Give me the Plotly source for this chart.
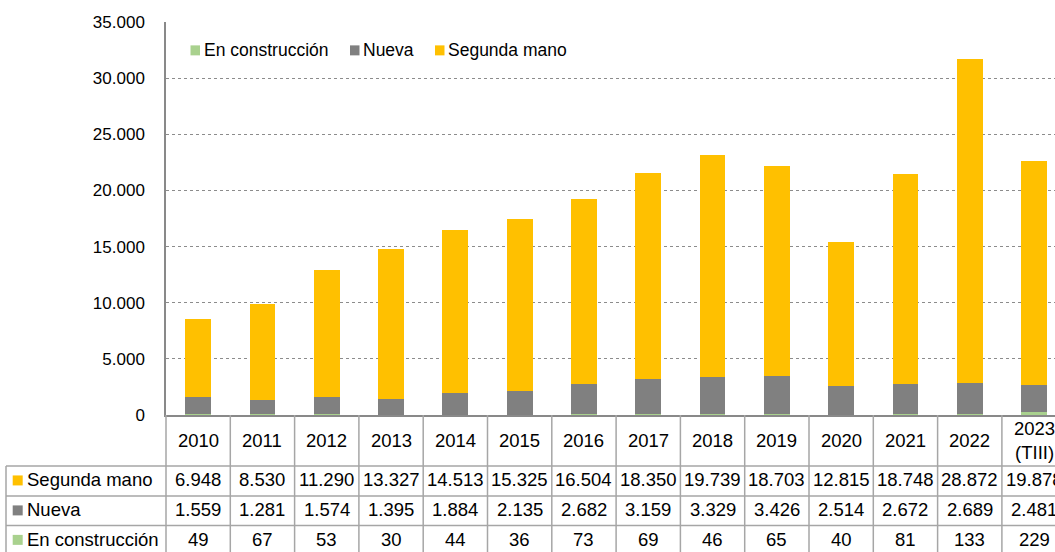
import plotly.graph_objects as go

categories = ["2010", "2011", "2012", "2013", "2014", "2015", "2016", "2017",
              "2018", "2019", "2020", "2021", "2022", "2023 (TIII)"]
header_labels = ["2010", "2011", "2012", "2013", "2014", "2015", "2016", "2017",
                 "2018", "2019", "2020", "2021", "2022", "2023<br>(TIII)"]
segunda_mano = [6948, 8530, 11290, 13327, 14513, 15325, 16504, 18350,
                19739, 18703, 12815, 18748, 28872, 19878]
nueva = [1559, 1281, 1574, 1395, 1884, 2135, 2682, 3159,
         3329, 3426, 2514, 2672, 2689, 2481]
en_construccion = [49, 67, 53, 30, 44, 36, 73, 69, 46, 65, 40, 81, 133, 229]

series = [
    ("En construcción", en_construccion, "#A9D18E"),
    ("Nueva", nueva, "#808080"),
    ("Segunda mano", segunda_mano, "#FFC000"),
]
table_rows = [
    ("Segunda mano", segunda_mano, "#FFC000"),
    ("Nueva", nueva, "#808080"),
    ("En construcción", en_construccion, "#A9D18E"),
]

W, H = 1055, 552
L, T, B = 166, 21.6, 415.0
PW, PH = W - L, B - T
COLW = 64.3
XR = [-0.5, -0.5 + PW / COLW]
FONT = "Liberation Sans, Arial, sans-serif"
LINE = "#A6A6A6"
TFS = 18.5


def fmt(v):
    return f"{v:,}".replace(",", ".")


def py(Y):
    return (B - Y) / PH


def px(X):
    return (X - L) / PW


fig = go.Figure()
for name, vals, col in series:
    fig.add_trace(go.Bar(x=categories, y=vals, name=name, marker_color=col,
                         marker_line_width=0, width=0.4, showlegend=False))

shapes = []
annotations = []

# custom legend
legend_items = [("En construcción", "#A9D18E", 190.5), ("Nueva", "#808080", 350),
                ("Segunda mano", "#FFC000", 435)]
for name, col, X in legend_items:
    shapes.append(dict(type="rect", xref="paper", yref="paper",
                       x0=px(X), x1=px(X + 9.5), y0=py(45), y1=py(55),
                       fillcolor=col, line_width=0))
    annotations.append(dict(text=name, xref="paper", yref="paper", x=px(X + 11),
                            y=py(50), xanchor="left", yanchor="middle",
                            showarrow=False, font=dict(size=17.5, family=FONT, color="#000")))

# table
row_lines = [466, 496, 525.5]
for Y in row_lines:
    shapes.append(dict(type="line", xref="paper", yref="paper", x0=px(6), x1=1.05,
                       y0=py(Y), y1=py(Y), line=dict(color=LINE, width=1.5)))
shapes.append(dict(type="line", xref="paper", yref="paper", x0=px(6), x1=px(6),
                   y0=py(466), y1=py(560), line=dict(color=LINE, width=1.5)))
for i in range(1, len(categories) + 1):
    shapes.append(dict(type="line", xref="x", yref="paper", x0=i - 0.5, x1=i - 0.5,
                       y0=0, y1=py(560), line=dict(color=LINE, width=1.5)))
shapes.append(dict(type="line", xref="paper", yref="paper", x0=0, x1=0,
                   y0=0, y1=py(560), line=dict(color=LINE, width=1.5)))

for i, lab in enumerate(header_labels):
    annotations.append(dict(text=lab, xref="x", yref="paper", x=i, y=py(441),
                            xanchor="center", yanchor="middle", showarrow=False,
                            font=dict(size=TFS, family=FONT, color="#000")))

row_centers = [480, 510, 539.5]
for (name, vals, col), Yc in zip(table_rows, row_centers):
    shapes.append(dict(type="rect", xref="paper", yref="paper",
                       x0=px(12.7), x1=px(22.7), y0=py(Yc - 4.5), y1=py(Yc + 5.5),
                       fillcolor=col, line_width=0))
    annotations.append(dict(text=name, xref="paper", yref="paper", x=px(25),
                            y=py(Yc), xanchor="left", yanchor="middle", showarrow=False,
                            font=dict(size=TFS, family=FONT, color="#000")))
    for i, v in enumerate(vals):
        annotations.append(dict(text=fmt(v), xref="x", yref="paper", x=i, y=py(Yc),
                                xanchor="center", yanchor="middle", showarrow=False,
                                font=dict(size=TFS, family=FONT, color="#000")))

fig.update_layout(
    width=W, height=H,
    margin=dict(l=L, r=0, t=T, b=H - B, pad=0),
    barmode="stack",
    plot_bgcolor="white", paper_bgcolor="white",
    separators=",.",
    font=dict(family=FONT, size=17, color="#000"),
    shapes=shapes, annotations=annotations,
    showlegend=False,
    xaxis=dict(type="category", range=XR, showticklabels=False, ticks="",
               showgrid=False, showline=True, linecolor="#898989", linewidth=1.5,
               zeroline=False, fixedrange=True),
    yaxis=dict(range=[0, 35000], dtick=5000, tickformat=",.0f", showgrid=True,
               gridcolor="#8C8C8C", griddash="dot", gridwidth=1, showline=True,
               linecolor="#898989", linewidth=1.5, ticks="", zeroline=False,
               ticklabelstandoff=16, tickfont=dict(size=17, family=FONT, color="#000"),
               fixedrange=True),
)

fig.write_html("out.html", config={"displayModeBar": False},
               post_script="document.body.style.margin='0';")
